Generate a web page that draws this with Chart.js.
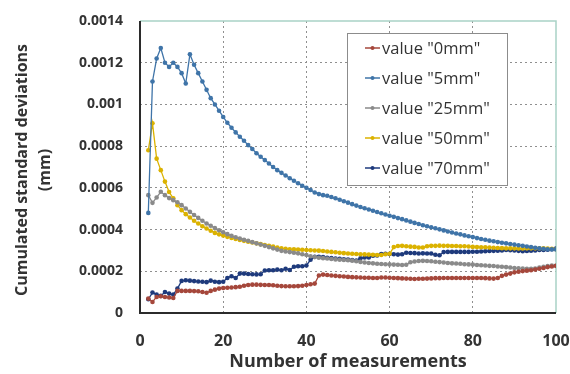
<!DOCTYPE html>
<html>
<head>
<meta charset="utf-8">
<script src="https://cdn.jsdelivr.net/npm/chart.js@4.4.1/dist/chart.umd.min.js"></script>
<style>
html,body{margin:0;padding:0;background:#fff;}
#wrap{width:570px;height:374px;position:relative;}
</style>
</head>
<body>
<div id="wrap"><canvas id="c" width="570" height="374"></canvas></div>
<script>
// ---- data ----
const measurements = [2,3,4,5,6,7,8,9,10,11,12,13,14,15,16,17,18,19,20,21,22,23,24,25,26,27,28,29,30,31,32,33,34,35,36,37,38,39,40,41,42,43,44,45,46,47,48,49,50,51,52,53,54,55,56,57,58,59,60,61,62,63,64,65,66,67,68,69,70,71,72,73,74,75,76,77,78,79,80,81,82,83,84,85,86,87,88,89,90,91,92,93,94,95,96,97,98,99,100];

const value0mm = [
0.000069,0.000053,0.000077,0.000080,0.000077,0.000074,0.000072,0.000106,0.000106,0.000106,
0.000106,0.000105,0.000104,0.000101,0.000097,0.000106,0.000112,0.000117,0.000120,0.000121,
0.000122,0.000124,0.000126,0.000131,0.000134,0.000136,0.000136,0.000135,0.000134,0.000134,
0.000133,0.000131,0.000129,0.000128,0.000128,0.000128,0.000129,0.000131,0.000134,0.000138,
0.000141,0.000180,0.000184,0.000182,0.000180,0.000178,0.000176,0.000175,0.000173,0.000172,
0.000171,0.000170,0.000169,0.000169,0.000168,0.000168,0.000170,0.000170,0.000169,0.000168,
0.000167,0.000166,0.000165,0.000164,0.000163,0.000164,0.000164,0.000165,0.000166,0.000167,
0.000167,0.000168,0.000168,0.000168,0.000168,0.000168,0.000168,0.000168,0.000168,0.000168,
0.000168,0.000167,0.000166,0.000165,0.000168,0.000178,0.000184,0.000189,0.000195,0.000198,
0.000201,0.000203,0.000205,0.000208,0.000212,0.000216,0.000220,0.000223,0.000226];

const value5mm = [
0.00048,0.00111,0.00122,0.00127,0.00120,0.00118,0.00120,0.00118,0.00115,0.00110,
0.00124,0.00119,0.00115,0.00111,0.00107,0.00103,0.00100,0.00097,0.00094,0.000912,
0.000888,0.000866,0.000845,0.000826,0.000805,0.000786,0.000766,0.000749,0.000733,0.000717,
0.000700,0.000685,0.000672,0.000659,0.000646,0.000634,0.000622,0.000610,0.000600,0.000590,
0.000578,0.000570,0.000565,0.000562,0.000556,0.000550,0.000543,0.000536,0.000529,0.000522,
0.000515,0.000508,0.000502,0.000496,0.000490,0.000484,0.000478,0.000472,0.000466,0.000461,
0.000455,0.000450,0.000444,0.000438,0.000432,0.000427,0.000421,0.000416,0.000411,0.000406,
0.000401,0.000396,0.000391,0.000386,0.000381,0.000377,0.000372,0.000368,0.000364,0.000359,
0.000355,0.000351,0.000347,0.000344,0.000340,0.000337,0.000334,0.000331,0.000328,0.000325,
0.000322,0.000319,0.000316,0.000313,0.000310,0.000308,0.000306,0.000305,0.000305];

const value25mm = [
0.000565,0.000528,0.000554,0.000581,0.000565,0.000551,0.000541,0.000531,0.000517,0.000501,
0.000485,0.000470,0.000456,0.000442,0.000429,0.000418,0.000407,0.000397,0.000387,0.000378,
0.000370,0.000363,0.000357,0.000351,0.000346,0.000340,0.000334,0.000328,0.000322,0.000316,
0.000310,0.000304,0.000298,0.000295,0.000292,0.000289,0.000286,0.000282,0.000278,0.000272,
0.000268,0.000265,0.000263,0.000261,0.000259,0.000257,0.000255,0.000254,0.000253,0.000251,
0.000248,0.000245,0.000242,0.000240,0.000238,0.000236,0.000235,0.000234,0.000233,0.000232,
0.000231,0.000230,0.000231,0.000243,0.000247,0.000249,0.000250,0.000249,0.000248,0.000246,
0.000244,0.000242,0.000240,0.000238,0.000237,0.000236,0.000234,0.000233,0.000232,0.000230,
0.000229,0.000228,0.000226,0.000225,0.000223,0.000222,0.000220,0.000218,0.000216,0.000214,
0.000213,0.000212,0.000212,0.000213,0.000218,0.000221,0.000225,0.000227,0.000226];

const value50mm = [
0.00078,0.00091,0.00074,0.000685,0.000630,0.000580,0.000550,0.000517,0.000493,0.000474,
0.000458,0.000442,0.000429,0.000416,0.000405,0.000394,0.000384,0.000377,0.000371,0.000365,
0.000360,0.000355,0.000350,0.000346,0.000342,0.000338,0.000334,0.000330,0.000326,0.000322,
0.000318,0.000314,0.000310,0.000308,0.000306,0.000305,0.000304,0.000303,0.000302,0.000301,
0.000300,0.000299,0.000297,0.000295,0.000293,0.000291,0.000289,0.000287,0.000285,0.000284,
0.000283,0.000282,0.000281,0.000280,0.000279,0.000278,0.000278,0.000282,0.000284,0.000316,
0.000321,0.000322,0.000320,0.000318,0.000317,0.000314,0.000314,0.000320,0.000322,0.000322,
0.000323,0.000322,0.000322,0.000321,0.000321,0.000320,0.000320,0.000319,0.000317,0.000316,
0.000315,0.000315,0.000314,0.000313,0.000312,0.000311,0.000310,0.000310,0.000310,0.000309,
0.000309,0.000310,0.000310,0.000310,0.000310,0.000310,0.000309,0.000308,0.000306];

const value70mm = [
0.000066,0.000098,0.000088,0.000082,0.000101,0.000093,0.000088,0.000117,0.000154,0.000157,
0.000155,0.000153,0.000151,0.000150,0.000148,0.000155,0.000150,0.000148,0.000150,0.000168,
0.000176,0.000168,0.000189,0.000189,0.000187,0.000186,0.000185,0.000186,0.000204,0.000205,
0.000205,0.000208,0.000205,0.000212,0.000206,0.000222,0.000224,0.000224,0.000228,0.000255,
0.000270,0.000270,0.000268,0.000265,0.000263,0.000261,0.000260,0.000258,0.000256,0.000254,
0.000252,0.000262,0.000266,0.000266,0.000275,0.000276,0.000283,0.000284,0.000283,0.000282,
0.000280,0.000282,0.000289,0.000288,0.000287,0.000285,0.000286,0.000285,0.000285,0.000279,
0.000277,0.000292,0.000293,0.000293,0.000293,0.000293,0.000293,0.000293,0.000294,0.000294,
0.000295,0.000296,0.000297,0.000298,0.000299,0.000300,0.000302,0.000301,0.000300,0.000298,
0.000296,0.000297,0.000299,0.000300,0.000302,0.000302,0.000303,0.000306,0.000309];

const seriesNames = ['value "0mm"','value "5mm"','value "25mm"','value "50mm"','value "70mm"'];
const xTicks = [0,20,40,60,80,100];
const yTicks = [0,0.0002,0.0004,0.0006,0.0008,0.001,0.0012,0.0014];
const xTitle = 'Number of measurements';
const yTitle = ['Cumulated standard deviations','(mm)'];

// ---- styling ----
const colors = ['#a5473b','#3f74a8','#8a8a8a','#dbb200','#1e3a7c'];
const FONT = '"Open Sans", "DejaVu Sans", sans-serif';
const seriesValues = [value0mm,value5mm,value25mm,value50mm,value70mm];

const datasets = seriesValues.map((vals,i)=>({
  label: seriesNames[i],
  data: measurements.map((m,j)=>({x:m,y:vals[j]})),
  borderColor: colors[i],
  backgroundColor: colors[i],
  borderWidth: 1.3,
  pointRadius: 2.3,
  pointBorderWidth: 0,
  pointBackgroundColor: colors[i],
  tension: 0
}));

const framePlugin = {
  id:'frame',
  beforeDatasetsDraw(chart){
    const a = chart.chartArea, ctx = chart.ctx;
    ctx.save();
    ctx.strokeStyle = '#a9d2c6'; ctx.lineWidth = 1.5;
    ctx.beginPath();
    ctx.moveTo(a.left, a.top); ctx.lineTo(a.right, a.top); ctx.lineTo(a.right, a.bottom);
    ctx.stroke();
    ctx.strokeStyle = '#2b2b2b'; ctx.lineWidth = 2;
    ctx.beginPath();
    ctx.moveTo(a.left, a.top); ctx.lineTo(a.left, a.bottom); ctx.lineTo(a.right, a.bottom);
    ctx.stroke();
    ctx.restore();
  },
  afterDraw(chart){
    const ctx = chart.ctx, a = chart.chartArea;
    ctx.save();
    ctx.fillStyle = '#333';
    ctx.font = 'bold 18px ' + FONT;
    ctx.textAlign = 'center'; ctx.textBaseline = 'middle';
    ctx.fillText(xTitle, (a.left+a.right)/2, 362);
    ctx.font = 'bold 16px ' + FONT;
    ctx.translate(0,170);
    ctx.rotate(-Math.PI/2);
    ctx.fillText(yTitle[0], 0, 22);
    ctx.fillText(yTitle[1], 0, 45);
    ctx.restore();
  }
};

const legendPlugin = {
  id:'boxLegend',
  afterDatasetsDraw(chart){
    const ctx = chart.ctx;
    const bx=347, by=33, bw=160, bh=152;
    ctx.save();
    ctx.fillStyle='#fff';
    ctx.fillRect(bx,by,bw,bh);
    ctx.strokeStyle='#8c8c8c'; ctx.lineWidth=1;
    ctx.strokeRect(bx+0.5,by+0.5,bw,bh);
    chart.data.datasets.forEach((ds,i)=>{
      const y = 48 + 30*i;
      ctx.strokeStyle = ds.borderColor; ctx.lineWidth=1.5;
      ctx.beginPath(); ctx.moveTo(365,y); ctx.lineTo(380,y); ctx.stroke();
      ctx.fillStyle = ds.borderColor;
      ctx.beginPath(); ctx.arc(372.5,y,2,0,Math.PI*2); ctx.fill();
      ctx.fillStyle='#333';
      ctx.font = '16.5px ' + FONT;
      ctx.textAlign='left'; ctx.textBaseline='middle';
      ctx.fillText(ds.label, 382, y+1);
    });
    ctx.restore();
  }
};

const edgeGrid = (ctx, lo, hi) => {
  const v = ctx.tick ? ctx.tick.value : null;
  return (v === lo || v === hi) ? 'rgba(0,0,0,0)' : '#8f8f8f';
};

new Chart(document.getElementById('c'), {
  type:'line',
  data:{datasets},
  plugins:[framePlugin, legendPlugin],
  options:{
    responsive:false,
    animation:false,
    devicePixelRatio:1,
    layout:{padding:{left:0,right:14,top:21,bottom:0}},
    plugins:{legend:{display:false},tooltip:{enabled:false}},
    scales:{
      x:{
        type:'linear', min:0, max:100,
        afterBuildTicks(s){ s.ticks = xTicks.map(v=>({value:v})); },
        afterFit(s){ s.height = 61; s.paddingLeft = 0; s.paddingRight = 0; },
        grid:{drawTicks:false, lineWidth:1, color:(c)=>edgeGrid(c,0,100)},
        border:{display:false, dash:[2,3]},
        ticks:{padding:19, color:'#333', font:{family:FONT, size:16, weight:'bold'}}
      },
      y:{
        min:0, max:0.0014,
        afterBuildTicks(s){ s.ticks = yTicks.map(v=>({value:v})); },
        afterFit(s){ s.width = 140; s.paddingTop = 0; s.paddingBottom = 0; },
        grid:{drawTicks:false, lineWidth:1, color:(c)=>edgeGrid(c,0,0.0014)},
        border:{display:false, dash:[2,3]},
        ticks:{padding:17, color:'#333', font:{family:FONT, size:14, weight:'bold'},
          callback:(v)=>String(Number(v.toFixed(4)))}
      }
    }
  }
});
</script>
</body>
</html>
